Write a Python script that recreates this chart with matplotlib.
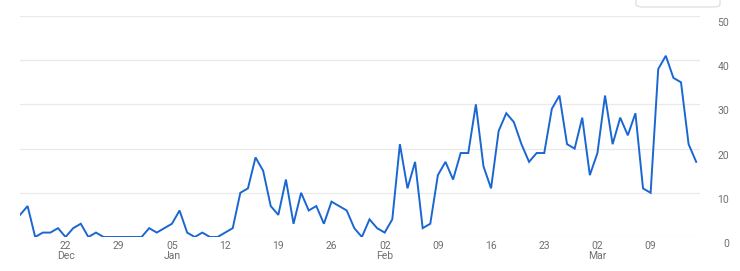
import matplotlib
matplotlib.use("Agg")
import matplotlib.pyplot as plt
import matplotlib.dates as mdates
import matplotlib.transforms as mtransforms
from matplotlib.patches import FancyBboxPatch
import pandas as pd

start_date = "2024-12-16"
values = [5, 7, 0, 1, 1, 2, 0, 2, 3, 0,
          1, 0, 0, 0, 0, 0, 0, 2, 1, 2,
          3, 6, 1, 0, 1, 0, 0, 1, 2, 10,
          11, 18, 15, 7, 5, 13, 3, 10, 6, 7,
          3, 8, 7, 6, 2, 0, 4, 2, 1, 4,
          21, 11, 17, 2, 3, 14, 17, 13, 19, 19,
          30, 16, 11, 24, 28, 26, 21, 17, 19, 19,
          29, 32, 21, 20, 27, 14, 19, 32, 21, 27,
          23, 28, 11, 10, 38, 41, 36, 35, 21, 17]
tick_dates = ["2024-12-22", "2024-12-29", "2025-01-05", "2025-01-12",
              "2025-01-19", "2025-01-26", "2025-02-02", "2025-02-09",
              "2025-02-16", "2025-02-23", "2025-03-02", "2025-03-09"]
tick_labels = ["22\nDec", "29", "05\nJan", "12", "19", "26",
               "02\nFeb", "09", "16", "23", "02\nMar", "09"]
y_ticks = [0, 10, 20, 30, 40, 50]

plt.rcParams['font.family'] = ['Roboto', 'DejaVu Sans']

dates = pd.date_range(start=start_date, periods=len(values), freq="D")

W, H = 740, 271
fig = plt.figure(figsize=(W / 100, H / 100), dpi=100)
ax = fig.add_axes([20 / W, (H - 237) / H, (700 - 20) / W, (237 - 16) / H])

ax.plot(dates, values, color="#1a67d2", linewidth=1.4, solid_joinstyle="miter")

x0 = mdates.date2num(dates[0])
x1 = mdates.date2num(dates[-1])
step = 1.0
ax.set_xlim(x0, x1 + 0.5 * step)
ax.set_ylim(0, 50)

for s in ax.spines.values():
    s.set_visible(False)

ax.set_yticks(y_ticks)
ax.yaxis.tick_right()
ax.grid(axis="y", color="#e9e9e9", linewidth=0.9)
ax.set_axisbelow(True)
ax.tick_params(axis="y", length=0, pad=21, labelsize=7.5, labelcolor="#6f6f6f")
off = mtransforms.ScaledTranslation(0, -2 / 100, fig.dpi_scale_trans)
for lab in ax.get_yticklabels():
    lab.set_horizontalalignment("right")
    lab.set_verticalalignment("top")
    lab.set_transform(lab.get_transform() + off)

ax.set_xticks([mdates.date2num(pd.Timestamp(d)) for d in tick_dates])
ax.set_xticklabels(tick_labels, linespacing=0.95)
ax.tick_params(axis="x", length=0, pad=3, labelsize=7.5, labelcolor="#6f6f6f")

box = FancyBboxPatch((636 / W, (H - 7) / H), 84 / W, 20 / H,
                     boxstyle="round,pad=0,rounding_size=0.01",
                     transform=fig.transFigure, facecolor="white",
                     edgecolor="#dadada", linewidth=0.8, clip_on=False)
fig.patches.append(box)

fig.savefig("out.png", dpi=100)
